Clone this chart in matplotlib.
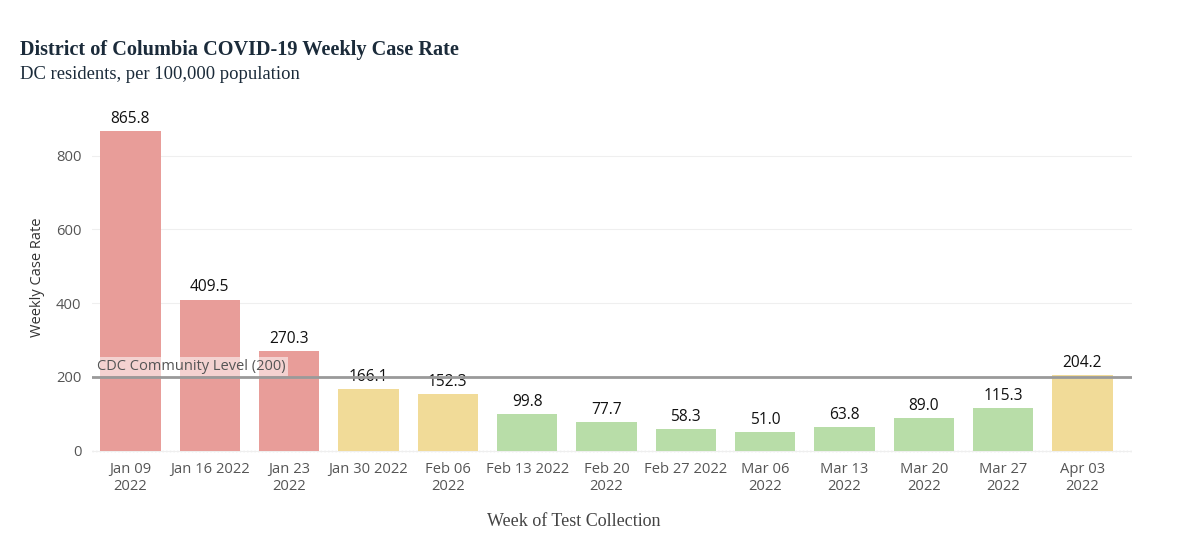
import matplotlib
matplotlib.use("Agg")
import matplotlib.pyplot as plt

# Datos
weeks = ["Jan 09\n2022", "Jan 16 2022", "Jan 23\n2022", "Jan 30 2022", "Feb 06\n2022",
         "Feb 13 2022", "Feb 20\n2022", "Feb 27 2022", "Mar 06\n2022", "Mar 13\n2022",
         "Mar 20\n2022", "Mar 27\n2022", "Apr 03\n2022"]
rates = [865.8, 409.5, 270.3, 166.1, 152.3, 99.8, 77.7, 58.3, 51.0, 63.8, 89.0, 115.3, 204.2]
levels = ["high", "high", "high", "mid", "mid", "low", "low", "low", "low", "low", "low", "low", "mid"]
cdc_level = 200

level_colors = {"high": "#E89D99", "mid": "#F1DB98", "low": "#B8DDA8"}


def main():
    fig = plt.figure(figsize=(12, 5.36), dpi=100)
    ax = fig.add_axes([0.077, 0.151, 0.866, 0.662])

    x = list(range(len(rates)))
    colors = [level_colors[l] for l in levels]
    ax.bar(x, rates, width=0.76, color=colors, zorder=2)

    for xi, v in zip(x, rates):
        ax.annotate(f"{v:.1f}", (xi, v), xytext=(0, 3), textcoords="offset points",
                    ha="center", va="bottom", fontsize=11.2, color="#111111",
                    family="Open Sans")

    # Línea de referencia CDC
    ax.axhline(cdc_level, color="#9A9A9A", lw=2, zorder=3)
    ax.text(-0.42, cdc_level + 8, "CDC Community Level (200)", fontsize=10.5,
            color="#555555", family="Open Sans", va="bottom", ha="left", zorder=4,
            bbox=dict(facecolor="white", alpha=0.55, edgecolor="none", pad=1.5))

    ax.set_xlim(-0.48, 12.62)
    ax.set_ylim(-12, 950)
    ax.set_yticks([0, 200, 400, 600, 800])
    ax.set_xticks(x)
    ax.set_xticklabels(weeks, fontsize=10.6, color="#555555", family="Open Sans",
                       linespacing=1.2)
    for lab in ax.get_yticklabels():
        lab.set_fontsize(10.6)
        lab.set_color("#555555")
        lab.set_family("Open Sans")
    ax.tick_params(axis="x", length=0, pad=5)
    ax.tick_params(axis="y", length=0, pad=8)

    ax.grid(axis="y", color="#EFEFEF", lw=0.8, zorder=0)
    ax.axhline(0, color="#DDDDDD", lw=1, ls=":", zorder=1)
    for s in ax.spines.values():
        s.set_visible(False)

    ax.set_ylabel("Weekly Case Rate", fontsize=10.5, color="#333333",
                  family="Open Sans", labelpad=8)

    fig.text(0.0165, 0.897, "District of Columbia COVID-19 Weekly Case Rate",
             fontsize=14.6, fontweight="bold", family="Liberation Serif", color="#1B2B3A")
    fig.text(0.0165, 0.852, "DC residents, per 100,000 population",
             fontsize=13.4, family="Liberation Serif", color="#1B2B3A")
    fig.text(0.478, 0.018, "Week of Test Collection", fontsize=13,
             family="Liberation Serif", color="#444444", ha="center")

    fig.savefig("out.png", dpi=100)


if __name__ == "__main__":
    main()
